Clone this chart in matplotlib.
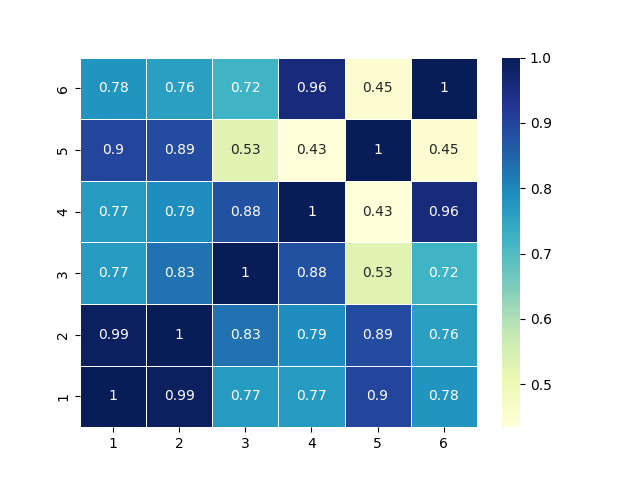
import matplotlib
matplotlib.use("Agg")
import matplotlib.pyplot as plt
import seaborn as sns
import numpy as np

labels = ["1", "2", "3", "4", "5", "6"]
row1 = [1.00, 0.99, 0.77, 0.77, 0.90, 0.78]
row2 = [0.99, 1.00, 0.83, 0.79, 0.89, 0.76]
row3 = [0.77, 0.83, 1.00, 0.88, 0.53, 0.72]
row4 = [0.77, 0.79, 0.88, 1.00, 0.434, 0.96]
row5 = [0.90, 0.89, 0.53, 0.434, 1.00, 0.45]
row6 = [0.78, 0.76, 0.72, 0.96, 0.45, 1.00]

data = np.array([row1, row2, row3, row4, row5, row6])

fig, ax = plt.subplots(figsize=(6.4, 4.8), dpi=100)
sns.heatmap(data, annot=True, cmap="YlGnBu", linewidths=0.5, linecolor="white",
            xticklabels=labels, yticklabels=labels, ax=ax)
ax.invert_yaxis()
fig.savefig("out.png", dpi=100)
